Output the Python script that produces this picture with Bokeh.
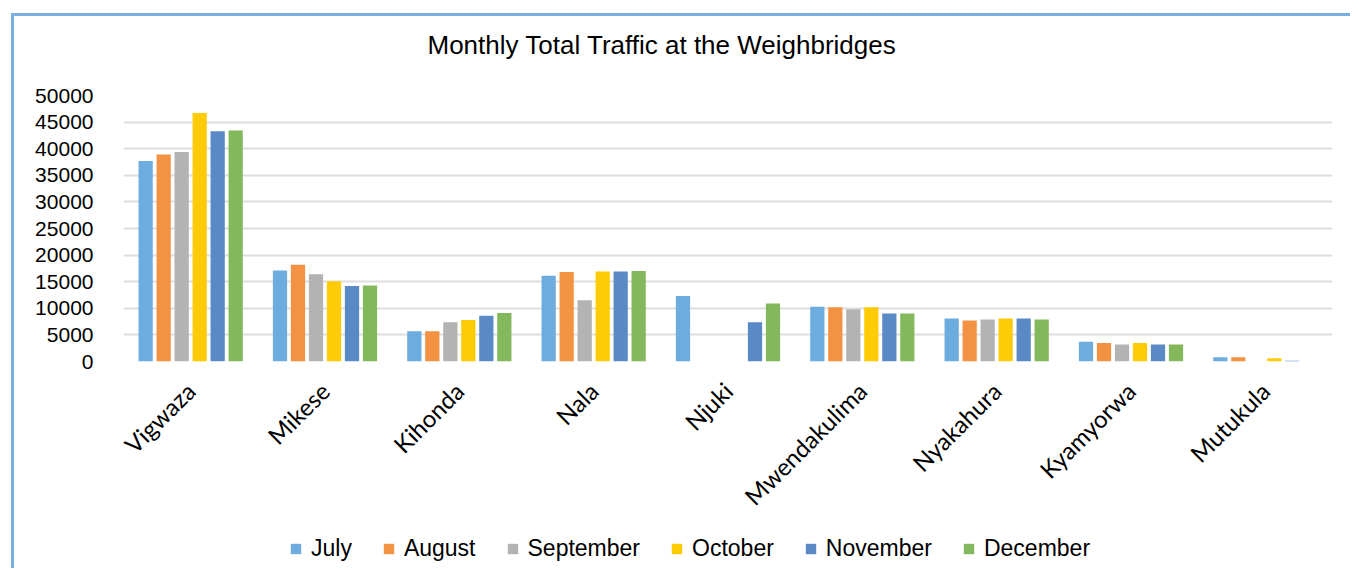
import math
from bokeh.plotting import figure
from bokeh.models import ColumnDataSource, FixedTicker, BasicTickFormatter, Legend
from bokeh.layouts import column
from bokeh.transform import dodge
from bokeh.embed import file_html
from bokeh.resources import INLINE

stations = ["Vigwaza", "Mikese", "Kihonda", "Nala", "Njuki", "Mwendakulima",
            "Nyakahura", "Kyamyorwa", "Mutukula"]
months = ["July", "August", "September", "October", "November", "December"]
july = [37700, 17100, 5700, 16100, 12300, 10300, 8100, 3700, 800]
august = [38900, 18200, 5700, 16800, 0, 10200, 7700, 3500, 800]
september = [39400, 16400, 7400, 11500, 0, 9800, 7900, 3200, 0]
october = [46700, 15100, 7800, 16900, 0, 10200, 8100, 3500, 600]
november = [43300, 14200, 8600, 16900, 7400, 9000, 8100, 3200, 150]
december = [43400, 14300, 9100, 17000, 10900, 9000, 7900, 3200, 0]
y_ticks = [0, 5000, 10000, 15000, 20000, 25000, 30000, 35000, 40000, 45000, 50000]
title_text = "Monthly Total Traffic at the Weighbridges"

colors = ["#6DACDE", "#F29242", "#B3B3B3", "#FFCA06", "#5A8AC6", "#84B85C"]
series = [july, august, september, october, november, december]
BORDER = "3px solid #79B0E0"

data = {"station": stations}
for m, s in zip(months, series):
    data[m] = s
src = ColumnDataSource(data)

# title strip
t = figure(width=1339, height=70, x_range=(0, 1), y_range=(0, 1),
           output_backend="svg", toolbar_location=None, title=title_text,
           min_border=0, min_border_top=43, margin=(13, 0, 0, 11))
t.styles = {"border-top": BORDER, "border-left": BORDER}
t.axis.visible = False
t.grid.visible = False
t.outline_line_color = None
t.title.align = "left"
t.title.offset = 304
t.title.standoff = 0
t.title.text_font = "Liberation Sans"
t.title.text_font_size = "26px"
t.title.text_font_style = "normal"
t.title.text_color = "#000000"

# main chart
p = figure(x_range=stations, y_range=(0, 50000), width=1339, height=445,
           output_backend="svg", toolbar_location=None,
           min_border_left=109, min_border_right=21,
           min_border_top=12, min_border_bottom=167,
           margin=(0, 0, 0, 11))
p.styles = {"border-left": BORDER}

pitch = 0.134
for i, (m, c) in enumerate(zip(months, colors)):
    p.vbar(x=dodge("station", (i - 2.5) * pitch, range=p.x_range), top=m,
           width=0.106, source=src, fill_color=c, line_color=None)

p.outline_line_color = None
p.xgrid.grid_line_color = None
p.ygrid.grid_line_color = "#DEDEDE"
p.ygrid.grid_line_width = 2
p.yaxis.ticker = FixedTicker(ticks=y_ticks)
p.yaxis.formatter = BasicTickFormatter(use_scientific=False)
p.yaxis.axis_line_color = None
p.yaxis.major_tick_line_color = None
p.yaxis.minor_tick_line_color = None
p.yaxis.major_label_standoff = 24
p.yaxis.major_label_text_font = "Liberation Sans"
p.yaxis.major_label_text_font_size = "21px"
p.yaxis.major_label_text_color = "#000000"

p.xaxis.axis_line_color = None
p.xaxis.major_tick_line_color = None
p.xaxis.major_label_orientation = math.pi / 4
p.xaxis.major_label_standoff = 19
p.xaxis.major_label_text_font = "Lato"
p.xaxis.major_label_text_font_size = "24px"
p.xaxis.major_label_text_color = "#000000"
p.x_range.range_padding = 0

# legend strip
q = figure(width=1339, height=40, x_range=(0, 1), y_range=(0, 1),
           output_backend="svg", toolbar_location=None,
           min_border=0, margin=(0, 0, 0, 11))
q.styles = {"border-left": BORDER}
q.axis.visible = False
q.grid.visible = False
q.outline_line_color = None
items = []
for m, c in zip(months, colors):
    # zero-height placeholder bars: only used to supply legend swatches
    r = q.vbar(x=[0.5], top=[0], bottom=[0], width=0.0, fill_color=c, line_color=None)
    items.append((m, [r]))
legend = Legend(items=items, orientation="horizontal", location=(166, 6))
legend.label_text_font = "Liberation Sans"
legend.label_text_font_size = "23px"
legend.label_text_color = "#000000"
legend.glyph_width = 13
legend.glyph_height = 13
legend.label_standoff = 9
legend.spacing = 30
legend.border_line_color = None
legend.background_fill_alpha = 0
legend.margin = 0
legend.padding = 4
q.add_layout(legend)

layout = column(t, p, q, spacing=0)
open("out.html", "w").write(file_html(layout, INLINE))
